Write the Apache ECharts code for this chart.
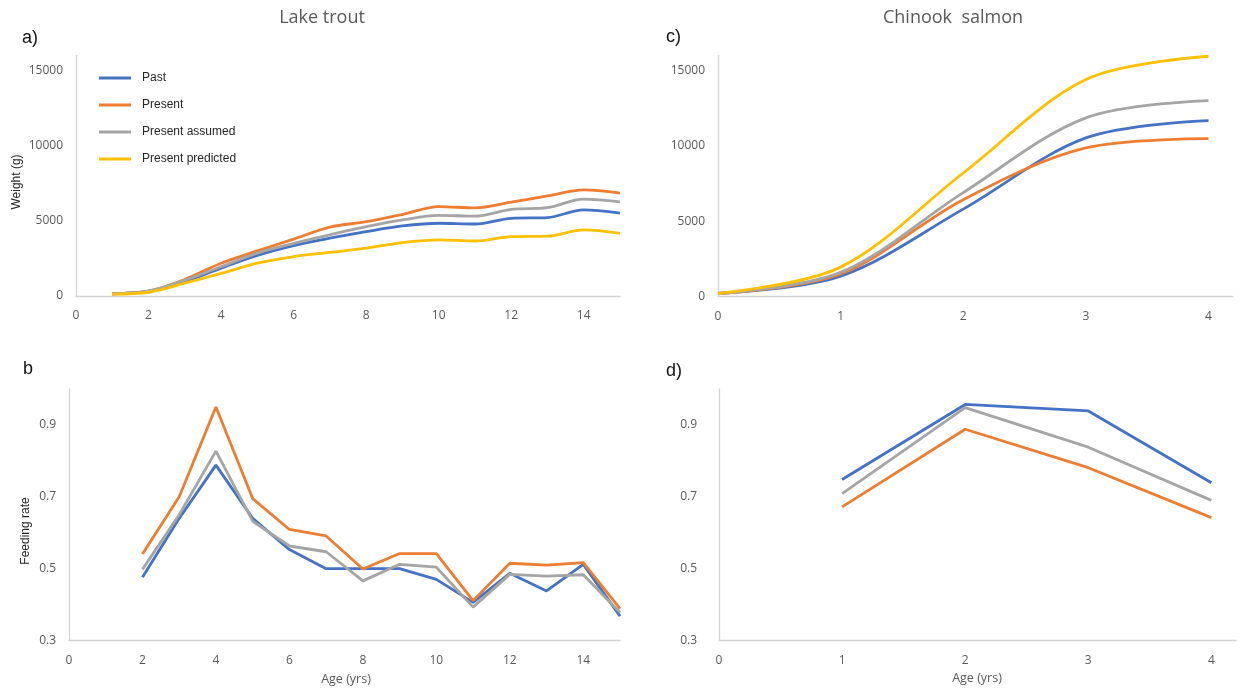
<!DOCTYPE html>
<html>
<head>
<meta charset="utf-8">
<script src="https://cdn.jsdelivr.net/npm/echarts@6/dist/echarts.min.js"></script>
<style>
  html, body { margin: 0; padding: 0; background: #ffffff; }
  #chart { width: 1241px; height: 688px; }
</style>
</head>
<body>
<div id="chart"></div>
<script>
// Scenario names and colours (shared by every panel)
const scenarioNames = ['Past', 'Present', 'Present assumed', 'Present predicted'];
const scenarioColors = ['#4472C4', '#ED7D31', '#A5A5A5', '#FFC000'];

// a) Lake trout weight (g) by age (yrs)
const troutWeightAges = [1, 2, 3, 4, 5, 6, 7, 8, 9, 10, 11, 12, 13, 14, 15];
const troutWeightPast = [150, 320, 950, 1850, 2700, 3350, 3850, 4280, 4660, 4840, 4790, 5170, 5220, 5730, 5510];
const troutWeightPresent = [150, 330, 1100, 2180, 3000, 3780, 4580, 4940, 5420, 5950, 5860, 6240, 6660, 7060, 6840];
const troutWeightAssumed = [150, 320, 1050, 1950, 2850, 3500, 4070, 4610, 5060, 5370, 5310, 5770, 5880, 6440, 6260];
const troutWeightPredicted = [130, 250, 850, 1500, 2180, 2620, 2900, 3180, 3550, 3730, 3660, 3950, 3980, 4400, 4170];

// b) Lake trout feeding rate by age (yrs)
const troutFeedAges = [2, 3, 4, 5, 6, 7, 8, 9, 10, 11, 12, 13, 14, 15];
const troutFeedPast = [0.476, 0.640, 0.788, 0.640, 0.553, 0.500, 0.500, 0.500, 0.470, 0.406, 0.487, 0.438, 0.512, 0.368];
const troutFeedPresent = [0.541, 0.700, 0.950, 0.695, 0.609, 0.591, 0.499, 0.542, 0.542, 0.411, 0.515, 0.510, 0.517, 0.389];
const troutFeedAssumed = [0.498, 0.650, 0.827, 0.632, 0.563, 0.547, 0.466, 0.512, 0.504, 0.393, 0.484, 0.479, 0.483, 0.378];

// c) Chinook salmon weight (g) by age (yrs)
const chinookWeightAges = [0, 1, 2, 3, 4];
const chinookWeightPast = [200, 1350, 5800, 10530, 11680];
const chinookWeightPresent = [200, 1500, 6430, 9870, 10480];
const chinookWeightAssumed = [200, 1600, 6900, 11860, 13010];
const chinookWeightPredicted = [200, 1950, 8200, 14400, 15950];

// d) Chinook salmon feeding rate by age (yrs)
const chinookFeedAges = [1, 2, 3, 4];
const chinookFeedPast = [0.748, 0.957, 0.939, 0.739];
const chinookFeedPresent = [0.672, 0.888, 0.781, 0.642];
const chinookFeedAssumed = [0.709, 0.948, 0.838, 0.690];

// Tick settings
const weightTicks = { min: 0, max: 16000, interval: 5000 };
const feedTicks = { min: 0.3, max: 1.0, interval: 0.2 };
const troutAgeTicks = { min: 0, max: 15, interval: 2 };
const chinookAgeTicks = { min: 0, max: 4.2, interval: 1 };

function pairs(xs, ys) {
  return xs.map((x, i) => [x, ys[i]]);
}

const axisLineStyle = { show: true, lineStyle: { color: '#d4d4d4', width: 1.3 } };
const tickFont = { fontFamily: 'Open Sans', fontSize: 12, color: '#595959' };

function xAxisFor(gridIndex, ticks, margin) {
  return {
    type: 'value', gridIndex: gridIndex,
    min: ticks.min, max: ticks.max, interval: ticks.interval,
    axisLine: axisLineStyle, axisTick: { show: false }, splitLine: { show: false },
    axisLabel: Object.assign({ margin: margin, showMaxLabel: false, showMinLabel: true }, tickFont)
  };
}
function yAxisFor(gridIndex, ticks, margin, digits) {
  return {
    type: 'value', gridIndex: gridIndex,
    min: ticks.min, max: ticks.max, interval: ticks.interval,
    axisLine: axisLineStyle, axisTick: { show: false }, splitLine: { show: false },
    axisLabel: Object.assign({
      margin: margin, showMaxLabel: false, showMinLabel: true,
      formatter: v => v.toFixed(digits)
    }, tickFont)
  };
}

function lineSeries(nameIndex, axisIndex, xs, ys, smooth) {
  return {
    type: 'line', name: scenarioNames[nameIndex],
    xAxisIndex: axisIndex, yAxisIndex: axisIndex,
    data: pairs(xs, ys),
    smooth: smooth ? 0.33 : false,
    showSymbol: false, symbol: 'none',
    lineStyle: { width: 2.8, color: scenarioColors[nameIndex] },
    itemStyle: { color: scenarioColors[nameIndex] },
    emphasis: { disabled: true },
    animation: false
  };
}

const labelFont = '18px "Liberation Sans", Arial, sans-serif';
const titleFont = '18px "Open Sans", sans-serif';
const axisTitleFont = '12px "Liberation Sans", Arial, sans-serif';
const ageTitleFont = '12.5px "Open Sans", sans-serif';

function textEl(text, x, y, font, color, align, rotation) {
  return {
    type: 'text', x: x, y: y, rotation: rotation || 0,
    style: { text: text, font: font, fill: color, align: align || 'center', verticalAlign: 'middle' },
    silent: true
  };
}

const chart = echarts.init(document.getElementById('chart'), null, { renderer: 'canvas' });

chart.setOption({
  backgroundColor: '#ffffff',
  animation: false,
  grid: [
    { left: 76, right: 621, top: 55.5, bottom: 392 },
    { left: 69, right: 621, top: 389, bottom: 47.5 },
    { left: 718, right: 8, top: 55.5, bottom: 391.5 },
    { left: 719, right: 5, top: 389, bottom: 47.5 }
  ],
  xAxis: [
    xAxisFor(0, troutAgeTicks, 14),
    xAxisFor(1, troutAgeTicks, 14),
    xAxisFor(2, chinookAgeTicks, 14),
    xAxisFor(3, chinookAgeTicks, 14)
  ],
  yAxis: [
    yAxisFor(0, weightTicks, 13, 0),
    yAxisFor(1, feedTicks, 13, 1),
    yAxisFor(2, weightTicks, 13, 0),
    yAxisFor(3, feedTicks, 22, 1)
  ],
  legend: {
    data: scenarioNames,
    orient: 'vertical',
    left: 94, top: 66,
    icon: 'rect',
    itemWidth: 32, itemHeight: 3,
    itemGap: 13,
    selectedMode: false,
    textStyle: {
      fontFamily: 'Liberation Sans', fontSize: 12, color: '#262626',
      lineHeight: 14, padding: [0, 0, 0, 6]
    }
  },
  series: [
    lineSeries(0, 0, troutWeightAges, troutWeightPast, true),
    lineSeries(1, 0, troutWeightAges, troutWeightPresent, true),
    lineSeries(2, 0, troutWeightAges, troutWeightAssumed, true),
    lineSeries(3, 0, troutWeightAges, troutWeightPredicted, true),

    lineSeries(0, 1, troutFeedAges, troutFeedPast, false),
    lineSeries(1, 1, troutFeedAges, troutFeedPresent, false),
    lineSeries(2, 1, troutFeedAges, troutFeedAssumed, false),

    lineSeries(0, 2, chinookWeightAges, chinookWeightPast, true),
    lineSeries(1, 2, chinookWeightAges, chinookWeightPresent, true),
    lineSeries(2, 2, chinookWeightAges, chinookWeightAssumed, true),
    lineSeries(3, 2, chinookWeightAges, chinookWeightPredicted, true),

    lineSeries(0, 3, chinookFeedAges, chinookFeedPast, false),
    lineSeries(1, 3, chinookFeedAges, chinookFeedPresent, false),
    lineSeries(2, 3, chinookFeedAges, chinookFeedAssumed, false)
  ],
  graphic: [
    textEl('Lake trout', 322, 18, titleFont, '#595959'),
    textEl('Chinook  salmon', 953, 18, titleFont, '#595959'),
    textEl('a)', 22, 38, labelFont, '#111111', 'left'),
    textEl('b', 23, 369, labelFont, '#111111', 'left'),
    textEl('c)', 666, 37, labelFont, '#111111', 'left'),
    textEl('d)', 666, 371, labelFont, '#111111', 'left'),
    textEl('Weight (g)', 17, 182, axisTitleFont, '#262626', 'center', Math.PI / 2),
    textEl('Feeding rate', 25.5, 531, axisTitleFont, '#262626', 'center', Math.PI / 2),
    textEl('Age (yrs)', 346, 679, ageTitleFont, '#595959'),
    textEl('Age (yrs)', 977, 678, ageTitleFont, '#595959')
  ]
});
</script>
</body>
</html>
